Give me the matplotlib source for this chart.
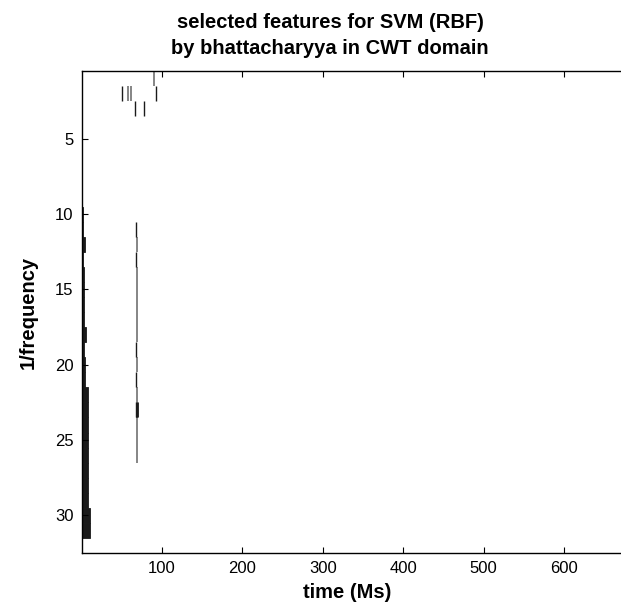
import numpy as np
import matplotlib
matplotlib.use("Agg")
import matplotlib.pyplot as plt

plt.rcParams['font.family'] = ['Liberation Sans', 'DejaVu Sans']

# 32 escalas x 700 muestras de tiempo
N_ESCALAS = 32
N_TIEMPO = 700

NEGRO = '#1a1a1a'
GRIS = '#858585'

# Barra negra pegada al eje izquierdo (fila, ancho en muestras)
barra_filas = [10, 11, 12, 13, 14, 15, 16, 17, 18, 19, 20, 21,
               22, 23, 24, 25, 26, 27, 28, 29, 30, 31]
barra_anchos = [1, 1, 4, 1, 3, 3, 3, 3, 5, 3, 4, 4,
                7, 7, 8, 8, 8, 8, 8, 8, 10, 10]

# Linea vertical cerca de t=68 (1 = gris, 2 = negro)
linea_filas = [11, 12, 13, 14, 15, 16, 17, 18, 19, 20, 21, 22, 23, 24, 25, 26]
linea_col = [68, 69, 68, 69, 69, 69, 69, 69, 68, 69, 68, 69, 68, 69, 69, 69]
linea_nivel = [2, 1, 2, 1, 1, 1, 1, 1, 2, 1, 2, 1, 2, 1, 1, 1]

# Rasgos sueltos arriba (fila, columna, nivel)
sueltos_fila = [1, 2, 2, 2, 2, 3, 3, 23]
sueltos_col = [90, 50, 58, 61, 92, 67, 78, 69]
sueltos_nivel = [1, 2, 1, 1, 2, 2, 2, 2]

fig = plt.figure(figsize=(6.21, 6.13), dpi=100)
ax = fig.add_axes([82 / 621, 60 / 613, N_TIEMPO * 0.804 / 621, 482 / 613])

# barra izquierda
ax.barh(barra_filas, barra_anchos, height=1.0, left=0.5, color=NEGRO,
        edgecolor=NEGRO, linewidth=0.6)

# rasgos de una sola muestra
filas = np.array(linea_filas + sueltos_fila)
cols = np.array(linea_col + sueltos_col)
niveles = np.array(linea_nivel + sueltos_nivel)
for nivel, color, lw in [(1, GRIS, 1.4), (2, NEGRO, 1.0)]:
    m = niveles == nivel
    ax.vlines(cols[m], filas[m] - 0.5, filas[m] + 0.5, colors=color, linewidth=lw)
# el segmento de la fila 23 es mas grueso
ax.vlines([68.5], [22.5], [23.5], colors=NEGRO, linewidth=2.0)

ax.set_xlim(0.5, N_TIEMPO + 0.5)
ax.set_ylim(N_ESCALAS + 0.5, 0.5)

ax.set_xticks([100, 200, 300, 400, 500, 600])
ax.set_yticks([5, 10, 15, 20, 25, 30])
ax.tick_params(direction='in', top=True, right=True, length=4, width=0.8,
               labelsize=12, pad=6)
for s in ax.spines.values():
    s.set_linewidth(1.0)

fig.text(330 / 621, 1 - 22 / 613, 'selected features for SVM (RBF)', ha='center', va='center',
         fontsize=14.5, fontweight='bold')
fig.text(330 / 621, 1 - 48 / 613, 'by bhattacharyya in CWT domain', ha='center', va='center',
         fontsize=14.5, fontweight='bold')
fig.text(347 / 621, 1 - 592 / 613, 'time (Ms)', ha='center', va='center',
         fontsize=14.5, fontweight='bold')
fig.text(28 / 621, 1 - 312 / 613, '1/frequency', ha='center', va='center',
         rotation=90, fontsize=14.5, fontweight='bold')

fig.savefig('out.png', dpi=100)
